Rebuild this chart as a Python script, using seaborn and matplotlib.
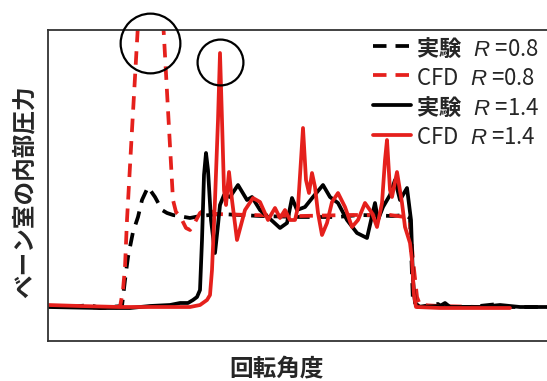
import matplotlib
matplotlib.use("Agg")
import matplotlib.pyplot as plt
import seaborn as sns
import pandas as pd

# Rotation angle (arbitrary units) and chamber pressure (arbitrary units)
exp08_angle = [0, 22, 42, 52, 62, 74, 77, 80, 85, 90, 94, 100, 107, 114, 119, 125, 142, 152, 172,
               212, 252, 289, 312, 345, 357, 362, 365, 370, 390, 394, 422, 450, 454, 499, 512]
exp08_press = [35, 34, 36, 33, 34, 35, 61, 84, 109, 124, 141, 154, 144, 131, 128, 126, 123, 125, 127,
               125, 124, 124, 126, 125, 126, 123, 38, 34, 37, 34, 34, 37, 34, 34, 34]

cfd08_angle = [0, 32, 62, 72, 75, 77, 79, 84, 89, 92, 113, 116, 120, 125, 128, 132, 138, 142, 146,
               152, 159, 167, 202, 252, 302, 342, 357, 362, 365, 369, 372, 392, 432, 462]
cfd08_press = [35, 34, 33, 34, 51, 74, 121, 211, 299, 351, 351, 304, 231, 141, 129, 125, 113, 111, 117,
               128, 133, 127, 126, 125, 126, 126, 124, 119, 81, 44, 36, 35, 34, 34]

exp14_angle = [0, 52, 82, 102, 122, 132, 140, 145, 149, 152, 154, 156, 158, 160, 163, 167, 170, 172,
               176, 182, 190, 199, 204, 212, 220, 232, 239, 244, 249, 257, 265, 275, 282, 290, 299,
               309, 319, 327, 330, 335, 342, 347, 352, 359, 363, 365, 367, 372, 392, 397, 402, 432,
               452, 472, 512]
exp14_press = [34, 33, 33, 35, 36, 38, 38, 41, 44, 51, 101, 166, 188, 171, 121, 88, 116, 136,
               146, 144, 156, 141, 144, 131, 124, 113, 118, 143, 131, 134, 144, 156, 144, 138, 121,
               108, 103, 138, 121, 134, 146, 161, 141, 153, 121, 61, 38, 34, 35, 38, 34, 34,
               36, 34, 34]

cfd14_angle = [0, 32, 72, 112, 142, 152, 159, 162, 164, 167, 170, 172, 174, 176, 178, 181, 184, 189,
               193, 197, 205, 212, 220, 227, 232, 237, 242, 247, 250, 253, 255, 258, 261, 264, 267,
               270, 274, 279, 284, 290, 297, 304, 310, 317, 324, 329, 334, 337, 339, 342, 344, 349,
               354, 357, 362, 364, 366, 368, 392, 432, 462]
cfd14_press = [36, 35, 34, 34, 34, 36, 41, 46, 71, 141, 221, 288, 221, 151, 136, 169, 141, 101,
               116, 131, 143, 139, 121, 133, 123, 131, 121, 121, 134, 181, 213, 161, 148, 168, 154,
               128, 106, 118, 139, 148, 134, 114, 121, 138, 128, 114, 138, 181, 201, 151, 144, 169,
               138, 114, 98, 81, 46, 34, 33, 33, 33]

series_labels = [r"$\mathbf{実験}\;\;\,R$ =0.8", r"CFD$\enspace\,R$ =0.8",
                 r"$\mathbf{実験}\;\;\,R$ =1.4", r"CFD$\enspace\,R$ =1.4"]

# Highlighted CFD overshoots (angle, pressure, marker diameter in pt)
highlight_angle = [102, 172]
highlight_press = [298, 279]
highlight_size = [43, 33]

RED = "#e5201c"

sns.set_style("white")
plt.rcParams["font.family"] = ["Noto Sans CJK JP", "DejaVu Sans"]
plt.rcParams["mathtext.fontset"] = "custom"
plt.rcParams["mathtext.it"] = "Liberation Sans:italic"
plt.rcParams["mathtext.rm"] = "Noto Sans CJK JP"
plt.rcParams["mathtext.bf"] = "Noto Sans CJK JP:bold"
plt.rcParams["path.simplify"] = False

fig = plt.figure(figsize=(5.47, 3.81), dpi=100)
ax = fig.add_axes([48 / 547, 40 / 381, 512 / 547, 311 / 381])

styles = [
    (exp08_angle, exp08_press, "black", (3.6, 2.4)),
    (cfd08_angle, cfd08_press, RED, (3.6, 2.4)),
    (exp14_angle, exp14_press, "black", None),
    (cfd14_angle, cfd14_press, RED, None),
]
for (xa, ya, col, dash), lab in zip(styles, series_labels):
    df = pd.DataFrame({"angle": xa, "pressure": ya})
    sns.lineplot(data=df, x="angle", y="pressure", ax=ax, color=col, lw=2.7,
                 estimator=None, sort=False, label=lab)
    line = ax.lines[-1]
    line.set_solid_joinstyle("round")
    line.set_dash_joinstyle("round")
    if dash is not None:
        line.set_dashes(dash)

for hx, hy, hs in zip(highlight_angle, highlight_press, highlight_size):
    ax.plot([hx], [hy], marker="o", ms=hs, mfc="none", mec="black", mew=1.6,
            ls="none", clip_on=False, zorder=5)

ax.set_xlim(0, 512)
ax.set_ylim(0, 311)
ax.set_xticks([])
ax.set_yticks([])
for side in ["left", "top", "bottom"]:
    ax.spines[side].set_color("#333333")
    ax.spines[side].set_linewidth(1.3)
ax.spines["right"].set_visible(False)

ax.set_xlabel("回転角度", fontsize=17, fontweight="bold")
ax.set_ylabel("ベーン室の内部圧力", fontsize=17, fontweight="bold")
ax.xaxis.set_label_coords(0.447, -0.087)
ax.xaxis.label.set_va("center")
ax.yaxis.set_label_coords(-0.045, 0.479)
ax.yaxis.label.set_va("center")

leg = ax.legend(loc="upper right", bbox_to_anchor=(539 / 547, 345 / 381),
                bbox_transform=fig.transFigure, frameon=False,
                prop={"size": 16}, handlelength=1.7, handletextpad=0.2,
                handleheight=1.32, labelspacing=0.22, borderpad=0.0, borderaxespad=0.0)

fig.savefig("out.png", dpi=100)
